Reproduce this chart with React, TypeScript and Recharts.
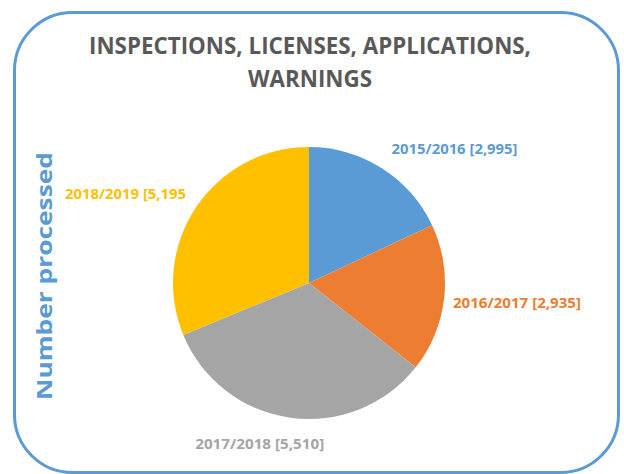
import { Cell, Pie, PieChart } from "recharts";

const seasons = ["2015/2016", "2016/2017", "2017/2018", "2018/2019"];
const processed = [2995, 2935, 5510, 5195];
const labelTexts = ["2015/2016 [2,995]", "2016/2017 [2,935]", "2017/2018 [5,510]", "2018/2019 [5,195"];
const titleLines = ["INSPECTIONS, LICENSES, APPLICATIONS,", "WARNINGS"];
const axisTitle = "Number processed";

const COLORS = ["#5B9BD5", "#ED7D31", "#A5A5A5", "#FFC000"];
const FONT = "'Open Sans', 'DejaVu Sans', sans-serif";
const RADIAN = Math.PI / 180;

const data = seasons.map((season, i) => ({ season, value: processed[i], label: labelTexts[i] }));

// small nudges so the labels sit where the spreadsheet put them
const labelNudge = [
  { dx: 0, dy: 1, anchor: "start" },
  { dx: -9, dy: 7, anchor: "start" },
  { dx: -28, dy: 13, anchor: "middle" },
  { dx: 5, dy: 2, anchor: "end" },
];
const labelWidths = [126, 128, 129, 121];

function renderLabel(props: any) {
  const { cx, cy, midAngle, outerRadius, index } = props;
  const r = outerRadius + 18;
  const nudge = labelNudge[index];
  const x = cx + r * Math.cos(-midAngle * RADIAN) + nudge.dx;
  const y = cy + r * Math.sin(-midAngle * RADIAN) + nudge.dy;
  return (
    <text
      x={x}
      y={y}
      fill={COLORS[index]}
      textAnchor={nudge.anchor}
      fontFamily={FONT}
      fontWeight={700}
      fontSize={14}
      textLength={labelWidths[index]}
      lengthAdjust="spacingAndGlyphs"
    >
      {data[index].label}
    </text>
  );
}

export default function App() {
  return (
    <div style={{ position: "absolute", left: 0, top: 0, width: 624, height: 474, background: "#fff", overflow: "hidden" }}>
      <svg width={624} height={474} style={{ position: "absolute", left: 0, top: 0 }}>
        <rect x={14.5} y={12.5} width={604} height={460} rx={58} ry={58} fill="#fff" stroke="#5B9BD5" strokeWidth={3} />
      </svg>
      <div style={{ position: "absolute", left: 0, top: 0 }}>
        <PieChart width={624} height={474} margin={{ top: 0, right: 0, bottom: 0, left: 0 }}>
          <Pie
            data={data}
            dataKey="value"
            nameKey="season"
            cx={309}
            cy={283}
            outerRadius={136}
            startAngle={90}
            endAngle={-270}
            stroke="none"
            label={renderLabel}
            labelLine={false}
            isAnimationActive={false}
          >
            {data.map((d, i) => (
              <Cell key={d.season} fill={COLORS[i]} />
            ))}
          </Pie>
        </PieChart>
      </div>
      <svg width={624} height={474} style={{ position: "absolute", left: 0, top: 0, pointerEvents: "none" }}>
        <text x={310} y={54} textAnchor="middle" fill="#595959" fontFamily={FONT} fontWeight={700} fontSize={23} textLength={442} lengthAdjust="spacingAndGlyphs">
          {titleLines[0]}
        </text>
        <text x={310} y={87} textAnchor="middle" fill="#595959" fontFamily={FONT} fontWeight={700} fontSize={23} textLength={124} lengthAdjust="spacingAndGlyphs">
          {titleLines[1]}
        </text>
        <text
          x={0}
          y={0}
          transform="translate(52, 276) rotate(-90)"
          textAnchor="middle"
          fill="#5B9BD5"
          fontFamily={FONT}
          fontWeight={700}
          fontSize={21}
          textLength={248}
          lengthAdjust="spacingAndGlyphs"
        >
          {axisTitle}
        </text>
      </svg>
    </div>
  );
}
